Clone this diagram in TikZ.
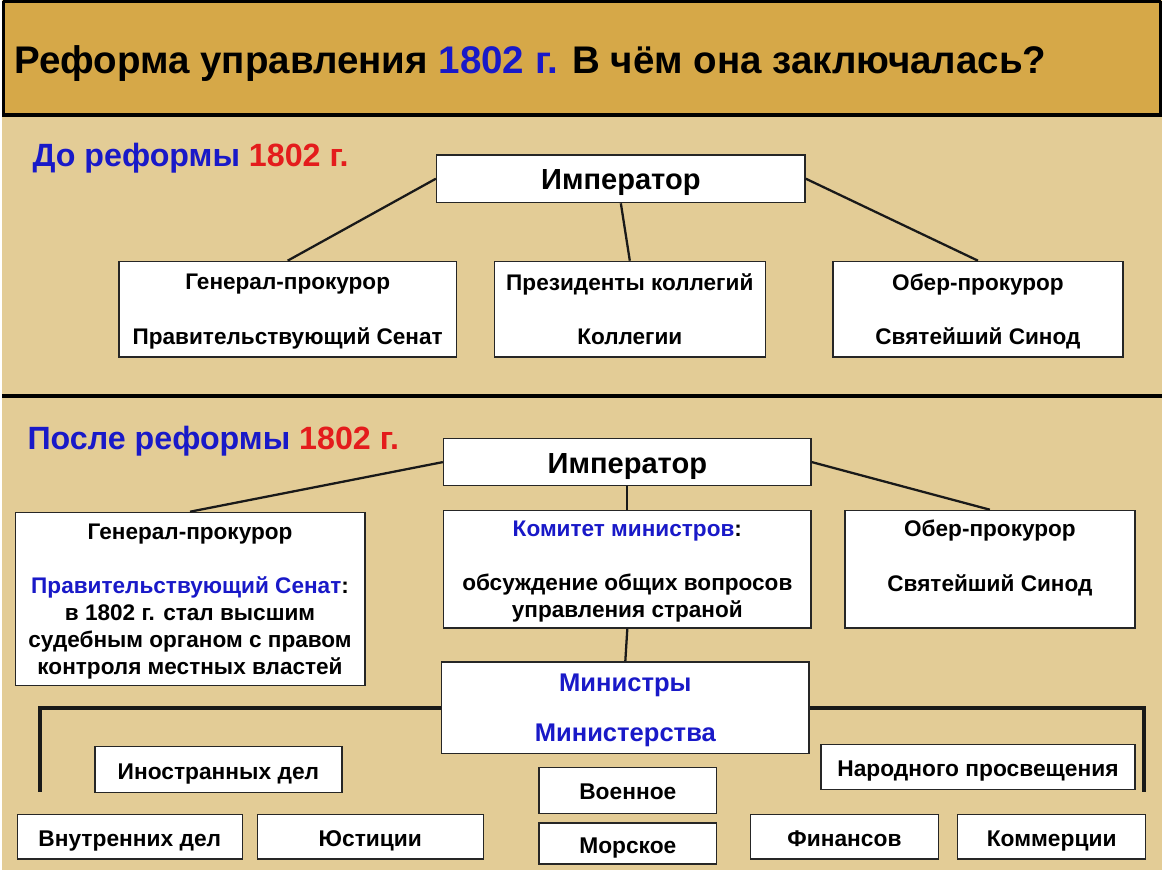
\documentclass[tikz,border=0pt]{standalone}
\usepackage{fontspec}
\setmainfont{Liberation Sans}
\usetikzlibrary{positioning,backgrounds}
\definecolor{parchment}{RGB}{227,204,150}
\definecolor{titlegold}{RGB}{214,168,72}
\definecolor{reformblue}{RGB}{25,25,200}
\definecolor{reformred}{RGB}{228,28,28}
\newlength{\pxl}
\setlength{\pxl}{0.02cm}
\newcommand{\boxfont}{\fontsize{12.9}{15.5}\selectfont\bfseries}
\newcommand{\empfont}{\fontsize{16.6}{19}\selectfont\bfseries}
\newcommand{\minfont}{\fontsize{14.6}{17}\selectfont\bfseries}
\newcommand{\depfont}{\fontsize{13}{15}\selectfont\bfseries}
\tikzstyle{orgbox} = [rectangle, draw=black!85, fill=white, line width=0.8pt, align=center, inner sep=0pt, font=\boxfont, text depth=0pt]
\tikzstyle{empbox} = [rectangle, draw=black!85, fill=white, line width=0.8pt, inner sep=0pt, font=\empfont, text height=1.25em, text depth=0pt]
\tikzstyle{depbox} = [empbox, font=\depfont, text height=1.1em]
\tikzstyle{link} = [line width=1.3pt, color=black!90]
\tikzstyle{bracket} = [line width=2.2pt, color=black!90]

\begin{document}
\begin{tikzpicture}[x=0.02cm, y=-0.02cm]

% Background and title bar
\fill[parchment] (0,0) rectangle (1164,873);
\draw[titlegold, fill=titlegold] (2,2) rectangle (1162,115);
\draw[line width=1.6pt] (1,1) -- (1163,1) (1,1) -- (1,115) (1163,1) -- (1163,115);
\draw[line width=2.6pt] (0,115) -- (1164,115);
\draw[line width=2.3pt] (0,397) -- (1164,397);
\node[anchor=west, inner sep=0pt, font=\fontsize{22}{26}\selectfont\bfseries] (title) at (12,63) {Реформа управления \textcolor{reformblue}{1802 г.} В чём она заключалась?};

% Before the reform
\node[anchor=west, inner sep=0pt, font=\fontsize{18.4}{21}\selectfont\bfseries, text=reformblue] (before) at (30,158) {До реформы \textcolor{reformred}{1802 г.}};
\node[empbox, minimum width=370\pxl, minimum height=48\pxl] (emp1) at (621,179) {Император};
\node[orgbox, minimum width=339\pxl, minimum height=96\pxl] (genA) at (286.5,310) {Генерал-прокурор\\[\baselineskip]Правительствующий Сенат};
\node[orgbox, minimum width=272\pxl, minimum height=96\pxl] (colB) at (630,310) {Президенты коллегий\\[\baselineskip]Коллегии};
\node[orgbox, minimum width=291\pxl, minimum height=96\pxl] (oberC) at (979.5,310) {Обер-прокурор\\[\baselineskip]Святейший Синод};

\draw[link] (emp1.west) -- (genA.north);
\draw[link] (emp1.south) -- (colB.north);
\draw[link] (emp1.east) -- (oberC.north);

% After the reform
\node[anchor=west, inner sep=0pt, font=\fontsize{18.4}{21}\selectfont\bfseries, text=reformblue] (after) at (25,442) {После реформы \textcolor{reformred}{1802 г.}};
\node[empbox, minimum width=369\pxl, minimum height=47\pxl] (emp2) at (627.5,463.5) {Император};
\node[orgbox, text depth=-3pt, minimum width=351\pxl, minimum height=174\pxl] (senD) at (188.5,601) {Генерал-прокурор\\[\baselineskip]\textcolor{reformblue}{Правительствующий Сенат}:\\в 1802 г. стал высшим\\судебным органом с правом\\контроля местных властей};
\node[orgbox, text depth=-5.3pt, minimum width=369\pxl, minimum height=118\pxl] (komE) at (627.5,571) {\textcolor{reformblue}{Комитет министров}:\\[\baselineskip]обсуждение общих вопросов\\управления страной};
\node[orgbox, text depth=-4.6pt, minimum width=291\pxl, minimum height=118\pxl] (oberF) at (991.5,571) {Обер-прокурор\\[\baselineskip]Святейший Синод\\\mbox{}};
\node[orgbox, font=\minfont, text=reformblue, text depth=-7.5pt, minimum width=369\pxl, minimum height=92\pxl] (minG) at (625.5,710) {Министры\\[11.4pt]Министерства};

\draw[link] (emp2.west) -- (senD.north);
\draw[link] (emp2.south) -- (komE.north);
\draw[link] (emp2.east) -- (oberF.north);
\draw[link] (komE.south) -- (minG.north);

% Ministries
\coordinate (brL) at (38,795);
\coordinate (brR) at (1146,795);
\draw[bracket] (minG.west) -| (brL);
\draw[bracket] (minG.east) -| (brR);

\node[depbox, minimum width=248\pxl, minimum height=46\pxl] (inostr) at (217,772) {Иностранных дел};
\node[depbox, minimum width=226\pxl, minimum height=45\pxl] (vnutr) at (128,839.5) {Внутренних дел};
\node[depbox, minimum width=227\pxl, minimum height=45\pxl] (yust) at (369.5,839.5) {Юстиции};
\node[depbox, minimum width=178\pxl, minimum height=46\pxl] (voen) at (628,793) {Военное};
\node[depbox, minimum width=178\pxl, minimum height=41\pxl] (morsk) at (628,846.5) {Морское};
\node[depbox, minimum width=315\pxl, minimum height=45\pxl] (narod) at (979.5,769.5) {Народного просвещения};
\node[depbox, minimum width=189\pxl, minimum height=45\pxl] (finans) at (845.5,839.5) {Финансов};
\node[depbox, minimum width=189\pxl, minimum height=45\pxl] (kommerc) at (1053.5,839.5) {Коммерции};

\end{tikzpicture}
\end{document}
